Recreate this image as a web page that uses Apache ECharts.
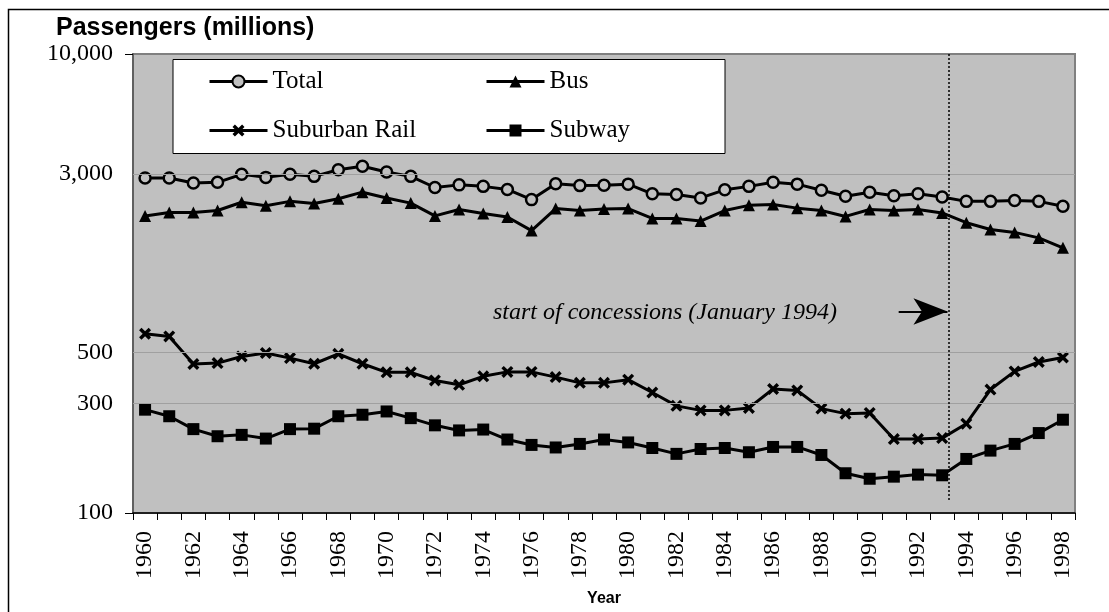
<!DOCTYPE html>
<html>
<head>
<meta charset="utf-8">
<title>Passengers (millions)</title>
<script src="https://cdn.jsdelivr.net/npm/echarts@6/dist/echarts.min.js"></script>
<style>
html, body { margin: 0; padding: 0; background: #fff; }
#main { width: 1109px; height: 612px; }
</style>
</head>
<body>
<div id="main"></div>
<script>
var years = [1960, 1961, 1962, 1963, 1964, 1965, 1966, 1967, 1968, 1969,
	1970, 1971, 1972, 1973, 1974, 1975, 1976, 1977, 1978, 1979,
	1980, 1981, 1982, 1983, 1984, 1985, 1986, 1987, 1988, 1989,
	1990, 1991, 1992, 1993, 1994, 1995, 1996, 1997, 1998];

var total = [2880, 2880, 2740, 2760, 2990, 2900, 2990, 2930, 3130, 3240,
	3060, 2930, 2620, 2690, 2650, 2570, 2320, 2720, 2670, 2680,
	2710, 2460, 2440, 2360, 2560, 2650, 2760, 2710, 2550, 2400,
	2500, 2410, 2460, 2380, 2280, 2280, 2300, 2280, 2170];

var bus = [1970, 2040, 2040, 2080, 2260, 2180, 2280, 2230, 2340, 2500,
	2360, 2240, 1970, 2100, 2020, 1950, 1700, 2120, 2080, 2110,
	2120, 1920, 1920, 1870, 2080, 2190, 2210, 2130, 2080, 1960,
	2100, 2080, 2100, 2030, 1840, 1720, 1670, 1580, 1430];

var rail = [604, 588, 446, 450, 481, 498, 473, 447, 494, 447,
	410, 410, 378, 362, 394, 412, 412, 391, 369, 369,
	381, 335, 293, 280, 280, 287, 347, 342, 285, 271,
	273, 210, 210, 212, 245, 345, 414, 455, 476];

var subway = [282, 264, 232, 216, 219, 211, 232, 233, 264, 268,
	277, 259, 241, 229, 231, 209, 198, 193, 200, 209,
	203, 192, 181, 190, 192, 184, 194, 194, 179, 149,
	141, 144, 147, 146, 172, 187, 200, 223, 255];

var yTickLabels = [100, 300, 500, 3000, 10000];
var yGridLines = [300, 500, 3000];
var xTickLabels = [1960, 1962, 1964, 1966, 1968, 1970, 1972, 1974, 1976, 1978,
	1980, 1982, 1984, 1986, 1988, 1990, 1992, 1994, 1996, 1998];

// concession marker (January 1994) and its arrow
var concessionYear = 1993.27;
var arrowStart = 1991.2;
var arrowLevel = 755;

var serif = '"Times New Roman", "Liberation Serif", serif';
var sans = 'Arial, "Liberation Sans", sans-serif';

var chart = echarts.init(document.getElementById('main'));

function pairs(vals){
	return years.map(function(y, i){ return [y, vals[i]]; });
}

// ticks sit between the years
var tickBounds = years.map(function(y){ return y - 0.5; }).concat([years[years.length - 1] + 0.5]);

var xMark = 'path://M2,0 L5,3 L8,0 L10,2 L7,5 L10,8 L8,10 L5,7 L2,10 L0,8 L3,5 L0,2 Z';

function legendItem(name, left, top){
	return {
		data: [name],
		left: left,
		top: top,
		padding: 0,
		itemWidth: 58,
		itemHeight: 15,
		selectedMode: false,
		z: 5,
		lineStyle: { width: 3 },
		textStyle: { fontFamily: serif, fontSize: 25, color: '#000' }
	};
}

function lineSeries(name, vals, symbol, size, itemStyle){
	return {
		name: name,
		type: 'line',
		data: pairs(vals),
		symbol: symbol,
		symbolSize: size,
		itemStyle: itemStyle,
		lineStyle: { color: '#000', width: 3 },
		emphasis: { disabled: true }
	};
}

var subwaySeries = lineSeries('Subway', subway, 'rect', 12, { color: '#000' });
subwaySeries.markLine = {
	silent: true,
	symbol: 'none',
	label: { show: false },
	data: [
		[
			{ coord: [concessionYear, 10000], lineStyle: { color: '#000', type: [2, 2], width: 1.5 } },
			{ coord: [concessionYear, 112] }
		],
		[
			{ coord: [arrowStart, arrowLevel], symbol: 'none', lineStyle: { color: '#000', type: 'solid', width: 2 } },
			{ coord: [concessionYear - 0.05, arrowLevel], symbol: 'arrow', symbolSize: [20, 34] }
		]
	]
};

chart.setOption({
	animation: false,
	backgroundColor: '#fff',
	title: {
		text: 'Passengers (millions)',
		left: 56,
		top: 16,
		padding: 0,
		textStyle: { fontFamily: sans, fontSize: 25, fontWeight: 'bold', color: '#000' }
	},
	legend: [
		legendItem('Total', 208, 69),
		legendItem('Bus', 485, 69),
		legendItem('Suburban Rail', 208, 118),
		legendItem('Subway', 485, 118)
	],
	grid: {
		left: 133, right: 34, top: 54, bottom: 99,
		show: true,
		backgroundColor: '#c0c0c0',
		borderColor: '#808080',
		borderWidth: 2,
		outerBoundsMode: 'none'
	},
	xAxis: {
		type: 'value',
		min: 1959.5,
		max: 1998.5,
		name: 'Year',
		nameLocation: 'middle',
		nameGap: 78,
		nameTextStyle: { fontFamily: sans, fontSize: 16, fontWeight: 'bold', color: '#000' },
		axisLine: { show: true, lineStyle: { color: '#000', width: 1.5 } },
		axisTick: { show: true, customValues: tickBounds, length: 7, lineStyle: { color: '#000', width: 1 } },
		axisLabel: {
			customValues: xTickLabels,
			rotate: 90,
			margin: 18,
			fontFamily: serif,
			fontSize: 24,
			color: '#000',
			formatter: function(v){ return String(v); }
		},
		splitLine: { show: false }
	},
	yAxis: {
		type: 'log',
		logBase: 10,
		min: 100,
		max: 10000,
		axisLine: { show: true, lineStyle: { color: '#606060', width: 2 } },
		axisTick: { show: true, customValues: [100, 10000], length: 8, lineStyle: { color: '#000', width: 1 } },
		axisLabel: {
			customValues: yTickLabels,
			margin: 20,
			fontFamily: serif,
			fontSize: 24,
			color: '#000',
			formatter: function(v){ return Math.round(v).toLocaleString('en-US'); }
		},
		splitLine: { show: false },
		minorTick: { show: false },
		minorSplitLine: { show: false }
	},
	graphic: [
		{
			type: 'rect', silent: true, z: 0,
			shape: { x: 8.5, y: 9.5, width: 1200, height: 700 },
			style: { fill: 'none', stroke: '#000', lineWidth: 1.5 }
		},
		{
			type: 'rect', silent: true, z: 3,
			shape: { x: 173, y: 59.5, width: 552, height: 94 },
			style: { fill: '#fff', stroke: '#000', lineWidth: 1 }
		},
		{
			type: 'text', silent: true, z: 5,
			x: 493, y: 313,
			style: {
				text: 'start of concessions (January 1994)',
				fontFamily: serif,
				fontSize: 24,
				fontStyle: 'italic',
				fill: '#000',
				align: 'left',
				verticalAlign: 'middle'
			}
		}
	],
	series: [
		{
			name: 'gridlines',
			type: 'line',
			data: [],
			z: 1,
			markLine: {
				silent: true,
				symbol: 'none',
				label: { show: false },
				lineStyle: { color: '#a0a0a0', type: 'solid', width: 1 },
				data: yGridLines.map(function(v){ return { yAxis: v }; })
			}
		},
		lineSeries('Total', total, 'circle', 11, { color: '#c0c0c0', borderColor: '#000', borderWidth: 2.5 }),
		lineSeries('Bus', bus, 'triangle', 12, { color: '#000' }),
		lineSeries('Suburban Rail', rail, xMark, 12, { color: '#000' }),
		subwaySeries
	]
});

window.onresize = function(){
	chart.resize();
};
</script>
</body>
</html>
